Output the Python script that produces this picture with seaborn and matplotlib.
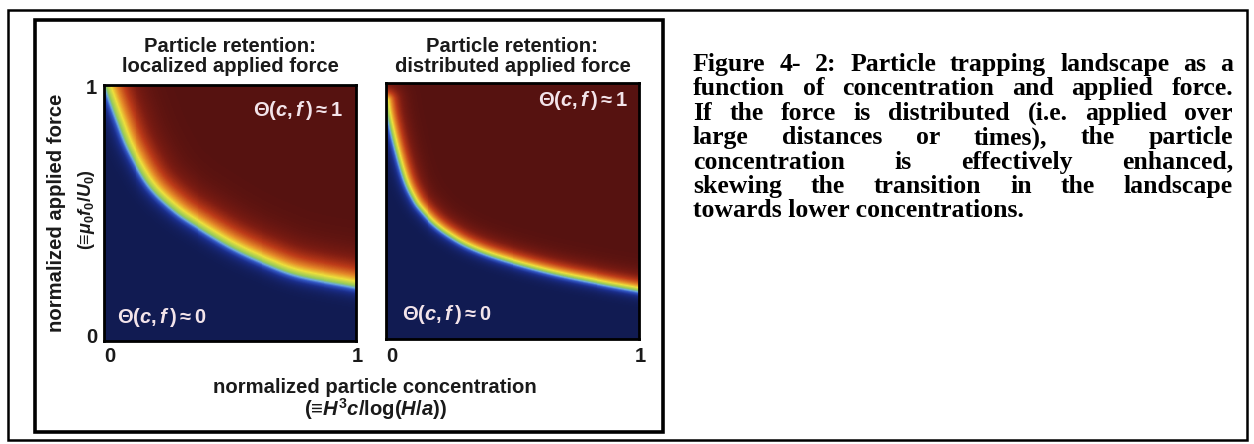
import numpy as np
import matplotlib
matplotlib.use("Agg")
import matplotlib.pyplot as plt
import seaborn as sns
from matplotlib.colors import LinearSegmentedColormap
from matplotlib.patches import Rectangle

# Transition line (Theta = 1/2) of each landscape: concentration / force pairs
loc_conc = [0.008, 0.056, 0.103, 0.183, 0.282, 0.381, 0.512, 0.647, 0.778, 1.00]
loc_force = [0.996, 0.863, 0.746, 0.609, 0.512, 0.445, 0.367, 0.305, 0.258, 0.215]
dist_conc = [0.00, 0.012, 0.04, 0.075, 0.11, 0.14, 0.19, 0.25, 0.33, 0.45, 0.65, 0.85, 1.00]
dist_force = [0.93, 0.86, 0.74, 0.62, 0.545, 0.503, 0.45, 0.405, 0.36, 0.315, 0.26, 0.218, 0.19]
# Width of the transition on the low side / high side of the line
loc_width = (0.035, 0.09)
dist_width = (0.027, 0.05)

panel_titles = ["Particle retention:\nlocalized applied force",
                "Particle retention:\ndistributed applied force"]
tick_labels = ["0", "1"]

caption_lines = [
    "Figure 4- 2: Particle trapping landscape as a",
    "function of concentration and applied force.",
    "If the force is distributed (i.e. applied over",
    "large distances or times), the particle",
    "concentration is effectively enhanced,",
    "skewing the transition in the landscape",
    "towards lower concentrations.",
]

W, H = 1254, 444
sns.set_style("white")
plt.rcParams["font.family"] = ["Liberation Sans", "DejaVu Sans"]
plt.rcParams["mathtext.fontset"] = "custom"
plt.rcParams["mathtext.rm"] = "Liberation Sans:bold"
plt.rcParams["mathtext.bf"] = "Liberation Sans:bold"
plt.rcParams["mathtext.it"] = "Liberation Sans:italic:bold"

cmap = LinearSegmentedColormap.from_list("retention", [
    (0.00, "#111b52"), (0.15, "#1a2d8a"), (0.28, "#3256c4"),
    (0.38, "#6aa6dc"), (0.50, "#93c95a"), (0.60, "#ecdf3c"),
    (0.70, "#e58a28"), (0.82, "#bc3a18"), (0.92, "#7e1c12"),
    (1.00, "#561210")])


def smooth_curve(xs, ys, n=80):
    pts = np.column_stack([xs, ys]).astype(float)
    pts = np.vstack([2 * pts[0] - pts[1], pts, 2 * pts[-1] - pts[-2]])
    out = []
    t = np.linspace(0, 1, n, endpoint=False)[:, None]
    for i in range(1, len(pts) - 2):
        p0, p1, p2, p3 = pts[i - 1], pts[i], pts[i + 1], pts[i + 2]
        out.append(0.5 * ((2 * p1) + (-p0 + p2) * t
                          + (2 * p0 - 5 * p1 + 4 * p2 - p3) * t ** 2
                          + (-p0 + 3 * p1 - 3 * p2 + p3) * t ** 3))
    out.append(pts[-2][None, :])
    return np.vstack(out)


def landscape(xs, ys, width, n=256):
    curve = smooth_curve(xs, ys)
    order = np.argsort(curve[:, 0])
    cx, cy = curve[order, 0], curve[order, 1]
    grid = (np.arange(n) + 0.5) / n
    theta = np.zeros((n, n))
    for j, f in enumerate(grid):
        d2 = (grid[:, None] - cx[None, :]) ** 2 + (f - cy[None, :]) ** 2
        d = np.sqrt(d2.min(axis=1))
        above = f > np.interp(grid, cx, cy)
        w = np.where(above, width[1], width[0])
        theta[j] = 0.5 + 0.5 * np.tanh(np.where(above, d, -d) / w)
    return theta


fig = plt.figure(figsize=(W / 100, H / 100), dpi=100)


def P(x, y):
    return x / W, 1 - y / H


# frames
fig.patches.append(Rectangle(P(8, 440), 1239 / W, 430 / H, fill=False,
                             lw=1.8, ec="black", transform=fig.transFigure))
fig.patches.append(Rectangle(P(35, 432), 628 / W, 412 / H, fill=False,
                             lw=2.6, ec="black", transform=fig.transFigure))

panels = [
    (loc_conc, loc_force, loc_width, 104, 85, 252, 256, (0.95, 0.90), (0.05, 0.09)),
    (dist_conc, dist_force, dist_width, 386, 83, 253, 256, (0.957, 0.93), (0.063, 0.094)),
]
label_kw = dict(fontsize=14.6, fontweight="bold", color="#1a1a1a")
note_kw = dict(fontsize=14.5, color="#f3e4ea")

for k, (xs, ys, width, x0, y0, pw, ph, hi_pos, lo_pos) in enumerate(panels):
    ax = fig.add_axes([x0 / W, 1 - (y0 + ph) / H, pw / W, ph / H])
    theta = landscape(xs, ys, width)
    sns.heatmap(theta[::-1], ax=ax, cmap=cmap, vmin=0, vmax=1, cbar=False,
                xticklabels=False, yticklabels=False)
    ax.set_xticks([])
    ax.set_yticks([])
    for s in ax.spines.values():
        s.set_visible(True)
        s.set_color("black")
        s.set_linewidth(2)
    cx = x0 + pw / 2
    fig.text(*P(cx, 47), panel_titles[k].split("\n")[0], ha="center",
             va="center", **label_kw)
    fig.text(*P(cx, 67), panel_titles[k].split("\n")[1], ha="center",
             va="center", **label_kw)
    # axis end labels
    fig.text(*P(x0 + 6, 356), tick_labels[0], ha="center", va="center",
             **label_kw)
    fig.text(*P(x0 + pw + 1, 356), tick_labels[1], ha="center",
             va="center", **label_kw)
    if k == 0:
        fig.text(*P(91, 88), tick_labels[1], ha="center", va="center",
                 **label_kw)
        fig.text(*P(92, 337), tick_labels[0], ha="center", va="center",
                 **label_kw)
    # plateau notes
    ax.text(*hi_pos, r"$\Theta(c,f\,)\approx1$", transform=ax.transAxes,
            ha="right", va="center", **note_kw)
    ax.text(*lo_pos, r"$\Theta(c,f\,)\approx0$", transform=ax.transAxes,
            ha="left", va="center", **note_kw)

fig.text(*P(57, 213), "normalized applied force", rotation=90,
         ha="center", va="center", **label_kw)
fig.text(*P(86, 210), r"(≡$\mu_0f_0/U_0$)", rotation=90,
         ha="center", va="center", fontsize=13, fontweight="bold",
         color="#1a1a1a")
fig.text(*P(375, 387), "normalized particle concentration", ha="center",
         va="center", **label_kw)
fig.text(*P(375, 409), r"(≡$H^3c$/log($H/a$))", ha="center",
         va="center", **label_kw)

# justified caption
renderer = fig.canvas.get_renderer()
cap_kw = dict(fontsize=18.5, fontweight="bold", family="Liberation Serif",
              color="black", va="baseline", ha="left")
left, right = 693, 1233
for i, line in enumerate(caption_lines):
    base = 71 + i * 24.4
    words = line.split(" ")
    if i == len(caption_lines) - 1:
        fig.text(*P(left, base), line, **cap_kw)
        continue
    items = [fig.text(*P(0, base), w, **cap_kw) for w in words]
    widths = [t.get_window_extent(renderer).width for t in items]
    gap = (right - left - sum(widths)) / (len(words) - 1)
    x = left
    for t, wd in zip(items, widths):
        t.set_x(x / W)
        x += wd + gap

fig.savefig("out.png", dpi=100)
